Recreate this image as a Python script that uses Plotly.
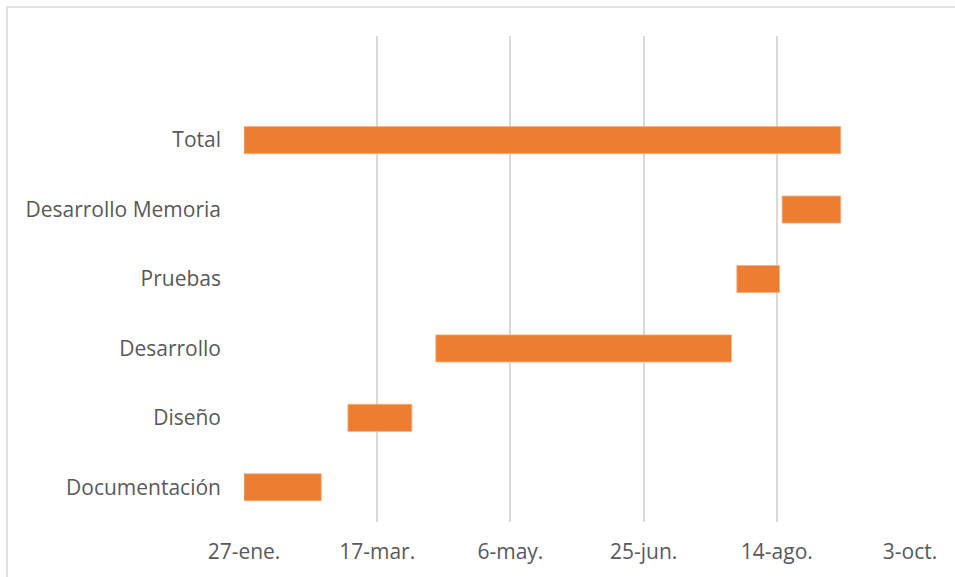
import plotly.graph_objects as go
from datetime import datetime

tasks = ["Documentación", "Diseño", "Desarrollo", "Pruebas", "Desarrollo Memoria", "Total"]
starts = ["2020-01-27", "2020-03-06", "2020-04-08", "2020-07-30", "2020-08-16", "2020-01-27"]
ends = ["2020-02-25", "2020-03-30", "2020-07-28", "2020-08-15", "2020-09-07", "2020-09-07"]
tick_dates = ["2020-01-27", "2020-03-17", "2020-05-06", "2020-06-25", "2020-08-14", "2020-10-03"]
tick_labels = ["27-ene.", "17-mar.", "6-may.", "25-jun.", "14-ago.", "3-oct."]

def ms(a, b):
    return (datetime.fromisoformat(b) - datetime.fromisoformat(a)).total_seconds() * 1000

durations = [ms(s, e) for s, e in zip(starts, ends)]

fig = go.Figure(go.Bar(
    y=tasks, x=durations, base=starts, orientation="h",
    marker=dict(color="#ED7D31", line=dict(color="#F4B183", width=0.8)),
    width=0.39,
))

W, H = 955, 577
ml, mr, mt, mb = 244, 45, 36, 55
pw, ph = W - ml - mr, H - mt - mb
fig.update_layout(
    width=W, height=H,
    margin=dict(l=ml, r=mr, t=mt, b=mb),
    paper_bgcolor="white", plot_bgcolor="white",
    font=dict(family="Open Sans, sans-serif", color="#595959", size=21),
    showlegend=False,
    xaxis=dict(type="date", range=[tick_dates[0], tick_dates[-1]],
               tickvals=tick_dates, ticktext=tick_labels,
               showgrid=True, gridcolor="#d9d9d9", gridwidth=1.5,
               zeroline=False, showline=False, ticks="", ticklabelstandoff=15,
               tickfont=dict(size=21)),
    yaxis=dict(type="category", categoryorder="array", categoryarray=tasks,
               range=[-0.5, 6.5], showgrid=False, zeroline=False, showline=False,
               ticks="", ticklabelstandoff=22, tickfont=dict(size=21)),
    shapes=[dict(type="rect", xref="paper", yref="paper",
                 x0=(7 - ml) / pw, x1=(W + 20 - ml) / pw,
                 y0=-(H + 20 - mt - ph) / ph, y1=(H - mb - 7) / ph,
                 line=dict(color="#d9d9d9", width=1.5), layer="below")],
)

fig.write_html("out.html")
